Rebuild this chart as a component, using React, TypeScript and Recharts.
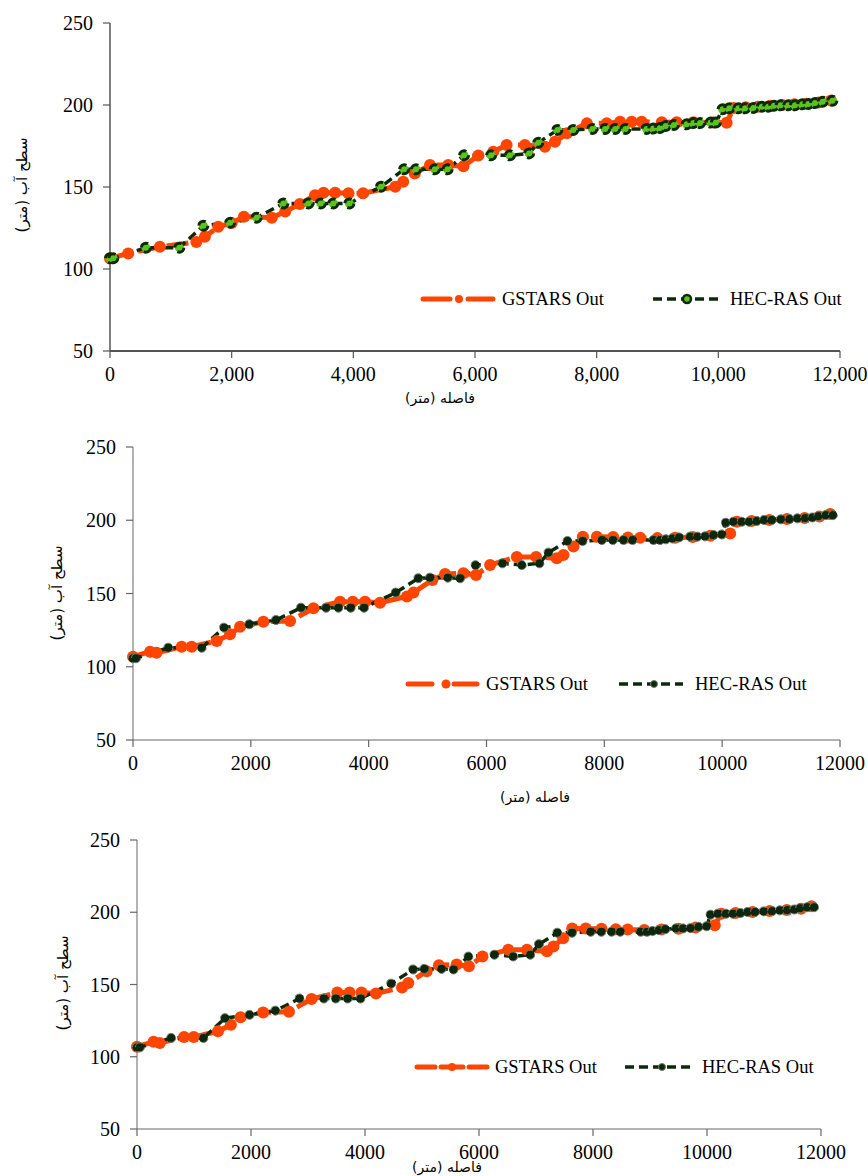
import React from 'react';
import { LineChart, Line, XAxis, YAxis } from 'recharts';

type P = [number, number];

const xTicks = [0, 2000, 4000, 6000, 8000, 10000, 12000];
const yTicks = [50, 100, 150, 200, 250];
const seriesNames = ['GSTARS Out', 'HEC-RAS Out'];
const xTitle = 'فاصله (متر)';
const yTitle = 'سطح آب (متر)';

// ---- Panel 1 ----
const gstars1: P[] = [
  [0, 106.5], [300, 109.5], [820, 113.5], [1420, 116.5], [1560, 119.7], [1780, 125.8], [2000, 128],
  [2200, 131.9], [2660, 131.3], [2880, 135], [3120, 139.6], [3370, 145], [3510, 146.5], [3700, 146.5],
  [3920, 146.2], [4160, 146.2], [4690, 150.2], [4820, 153.2], [5010, 158.3], [5260, 163.4], [5560, 163.4],
  [5810, 162.6], [6055, 169.2], [6300, 171.5], [6520, 175.6], [6820, 175.6], [7150, 174.6], [7315, 177.6],
  [7510, 182.7], [7840, 188.8], [8165, 188.8], [8385, 189.8], [8575, 189.8], [8740, 189.8], [9070, 189.5],
  [9316, 189.5], [9590, 189.5], [9918, 189.3], [10137, 189.2], [10250, 198.2], [10450, 198.6], [10650, 199],
  [10850, 199.5], [11050, 200], [11250, 200.4], [11450, 200.8], [11650, 201.5], [11850, 202.8],
];
const hecras1: P[] = [
  [0, 106.5], [54, 106.5], [590, 113], [1140, 113], [1535, 126.4], [1975, 128.2], [2410, 131.3],
  [2850, 140], [3260, 140], [3465, 140], [3670, 140], [3935, 140], [4455, 150.2], [4835, 160.8],
  [5030, 160.8], [5340, 160.8], [5550, 160.8], [5820, 169.3], [6265, 169.3], [6575, 169.3], [6890, 170.5],
  [7040, 177], [7355, 184.8], [7615, 184.8], [7930, 185.4], [8140, 185.4], [8305, 185.4], [8475, 185.4],
  [8820, 185.4], [8930, 185.6], [9040, 186], [9135, 187.2], [9270, 187.8], [9480, 188.2], [9590, 189],
  [9700, 189], [9875, 189.3], [9960, 189.3], [10070, 197.4], [10180, 198], [10330, 198], [10440, 198],
  [10575, 198.2], [10715, 199], [10820, 199], [10915, 199.5], [11025, 199.8], [11150, 199.8], [11260, 199.8],
  [11380, 200.4], [11480, 200.6], [11590, 201.2], [11715, 202], [11875, 202.6],
];

// ---- Panel 2 ----
const gstars2: P[] = [
  [0, 106.9], [290, 110.3], [400, 109.5], [826, 113.7], [996, 113.7], [1421, 117.6], [1647, 122.1],
  [1817, 127.3], [2213, 130.7], [2666, 131.2], [3062, 139.9], [3514, 144.4], [3730, 144.4], [3939, 144.4],
  [4193, 143.7], [4650, 148], [4760, 150.6], [5082, 159.2], [5297, 163.3], [5608, 163.8], [5823, 162.6],
  [6061, 169.4], [6514, 175], [6842, 175], [7193, 174], [7306, 176.3], [7476, 182], [7635, 188.7],
  [7873, 188.7], [8150, 188.5], [8400, 188.2], [8608, 188], [8900, 187.8], [9200, 188], [9500, 188.5],
  [9800, 189.5], [10136, 191], [10250, 199], [10500, 199.5], [10800, 200.2], [11100, 200.8], [11400, 201.5],
  [11650, 202.5], [11834, 204.2],
];
const hecras2: P[] = [
  [0, 105.8], [51, 105.8], [600, 113], [1166, 113], [1545, 126.7], [1975, 129], [2428, 131.9],
  [2852, 140.3], [3277, 140.3], [3486, 140.3], [3695, 140.3], [3921, 140.3], [4459, 150.6], [4844, 160.4],
  [5042, 160.8], [5342, 160.8], [5552, 160.4], [5815, 169.3], [6270, 170.6], [6599, 169.4], [6899, 170.6],
  [7052, 177.9], [7375, 185.8], [7630, 185.8], [7958, 186.5], [8145, 186.5], [8325, 186.5], [8478, 186.5],
  [8834, 186.5], [8947, 186.5], [9044, 187], [9156, 187.6], [9270, 188.3], [9457, 188.8], [9581, 188.8],
  [9711, 189], [9853, 189.9], [9994, 190.3], [10062, 198.3], [10192, 199], [10333, 199], [10458, 199],
  [10588, 199.5], [10713, 200.2], [10843, 200.2], [10996, 200.6], [11143, 200.8], [11278, 201.3],
  [11409, 201.5], [11533, 201.9], [11635, 202.8], [11760, 203.5], [11879, 203.5],
];

// ---- Panel 3 ----
const gstars3: P[] = [
  [0, 107], [290, 110.3], [400, 109.5], [826, 113.7], [996, 113.7], [1421, 117.6], [1647, 122.1],
  [1817, 127.3], [2213, 130.7], [2666, 131.2], [3062, 139.9], [3514, 144.4], [3730, 144.4], [3939, 144.4],
  [4193, 143.7], [4650, 148], [4760, 151], [5082, 159.2], [5297, 163.3], [5608, 163.8], [5823, 162.6],
  [6061, 169.4], [6514, 174], [6842, 174], [7193, 173], [7306, 176.3], [7476, 182], [7635, 188.7],
  [7873, 188.7], [8150, 188.5], [8400, 188.2], [8608, 188], [8900, 187.8], [9200, 188], [9500, 188.5],
  [9800, 189.5], [10136, 191], [10250, 199], [10500, 199.5], [10800, 200.2], [11100, 200.8], [11400, 201.5],
  [11650, 202.5], [11834, 204.2],
];
const hecras3: P[] = [
  [0, 106.5], [51, 106.5], [600, 113], [1166, 113], [1545, 126.7], [1975, 129], [2428, 131.9],
  [2852, 140.3], [3277, 140.3], [3486, 140.3], [3695, 140.3], [3921, 140.3], [4459, 150.6], [4844, 160.4],
  [5042, 160.8], [5342, 160.8], [5552, 160.4], [5815, 169.3], [6270, 170.6], [6599, 169.4], [6899, 170.6],
  [7052, 177.9], [7375, 185.8], [7630, 185.8], [7958, 186.5], [8145, 186.5], [8325, 186.5], [8478, 186.5],
  [8834, 186.5], [8947, 186.5], [9044, 187], [9156, 187.6], [9270, 188.3], [9457, 188.8], [9581, 188.8],
  [9711, 189], [9853, 189.9], [9994, 190.3], [10062, 198.3], [10192, 199], [10333, 199], [10458, 199],
  [10588, 199.5], [10713, 200.2], [10843, 200.2], [10996, 200.6], [11143, 200.8], [11278, 201.3],
  [11409, 201.5], [11533, 201.9], [11635, 202.8], [11760, 203.5], [11879, 203.5],
];

const ORANGE = '#FF4500';
const DARK = '#0B2A0B';
const LIME = '#5CC21D';
const SERIF = "'Liberation Serif', 'Times New Roman', serif";
const ARABIC = "'DejaVu Sans', sans-serif";

const toPts = (a: P[]) => a.map(([x, y]) => ({ x, y }));
const fmtComma = (v: number) => v.toLocaleString('en-US');
const fmtPlain = (v: number) => String(v);

type Cfg = {
  top: number; height: number;
  margin: { top: number; right: number; bottom: number; left: number };
  g: P[]; h: P[]; comma: boolean; variant: 1 | 2 | 3;
  axisStroke: string; axisWidth: number; xAxisWidth: number;
};

const panels: Cfg[] = [
  { top: 0, height: 410, margin: { top: 23, right: 28, bottom: 29, left: 50 }, g: gstars1, h: hecras1, comma: true, variant: 1, axisStroke: '#555', axisWidth: 1.5, xAxisWidth: 2.2 },
  { top: 410, height: 400, margin: { top: 37, right: 28, bottom: 40, left: 73 }, g: gstars2, h: hecras2, comma: false, variant: 2, axisStroke: '#666', axisWidth: 1, xAxisWidth: 1 },
  { top: 810, height: 366, margin: { top: 30, right: 47, bottom: 17, left: 77 }, g: gstars3, h: hecras3, comma: false, variant: 3, axisStroke: '#666', axisWidth: 1, xAxisWidth: 1 },
];

function Panel({ cfg }: { cfg: Cfg }) {
  const tick = { fill: '#000', fontSize: 20, fontFamily: SERIF };
  const gDash = cfg.variant === 3 ? '15 6' : '22 7';
  const hDot = cfg.variant === 1
    ? { r: 4.5, fill: LIME, stroke: DARK, strokeWidth: 3 }
    : { r: 4.5, fill: '#0D260D', stroke: '#6F7F6F', strokeWidth: 1 };
  return (
    <div style={{ position: 'absolute', left: 0, top: cfg.top }}>
      <LineChart width={868} height={cfg.height} margin={cfg.margin}>
        <XAxis
          type="number" dataKey="x" domain={[0, 12000]} ticks={xTicks} interval={0}
          tickFormatter={cfg.comma ? fmtComma : fmtPlain}
          tick={tick} tickSize={7} tickMargin={9} height={30}
          axisLine={{ stroke: cfg.axisStroke, strokeWidth: cfg.xAxisWidth }}
          tickLine={{ stroke: cfg.axisStroke, strokeWidth: 1.2 }}
        />
        <YAxis
          type="number" domain={[50, 250]} ticks={yTicks} interval={0} width={60}
          tick={tick} tickSize={7} tickMargin={10}
          axisLine={{ stroke: cfg.axisStroke, strokeWidth: cfg.axisWidth }}
          tickLine={{ stroke: cfg.axisStroke, strokeWidth: 1.2 }}
        />
        <Line
          data={toPts(cfg.g)} dataKey="y" name={seriesNames[0]} type="linear"
          stroke={ORANGE} strokeWidth={5} strokeDasharray={gDash}
          dot={{ r: 6, fill: ORANGE, stroke: 'none' }}
          activeDot={false} isAnimationActive={false}
        />
        <Line
          data={toPts(cfg.h)} dataKey="y" name={seriesNames[1]} type="linear"
          stroke={DARK} strokeWidth={3.5} strokeDasharray="9 5"
          dot={hDot} activeDot={false} isAnimationActive={false}
        />
      </LineChart>
    </div>
  );
}

type LegendCfg = {
  y: number;
  gDashes: [number, number][]; gDot: number; gR: number; gText: number;
  hFrom: number; hTo: number; hDot: number; hR: number; hText: number; variant: 1 | 2 | 3;
};

const legends: LegendCfg[] = [
  { y: 299, gDashes: [[423, 450], [468, 493]], gDot: 459, gR: 4, gText: 502, hFrom: 653, hTo: 723, hDot: 687, hR: 4, hText: 730, variant: 1 },
  { y: 684, gDashes: [[408, 432], [454, 477]], gDot: 446, gR: 4.5, gText: 486, hFrom: 619, hTo: 683, hDot: 654, hR: 3.5, hText: 695, variant: 2 },
  { y: 1067, gDashes: [[417, 435], [441, 463], [469, 487]], gDot: 452, gR: 4, gText: 495, hFrom: 625, hTo: 695, hDot: 662, hR: 3.5, hText: 702, variant: 3 },
];

function LegendItems({ l }: { l: LegendCfg }) {
  return (
    <g>
      {l.gDashes.map(([a, b], i) => (
        <line key={i} x1={a} x2={b} y1={l.y} y2={l.y} stroke={ORANGE} strokeWidth={5} strokeLinecap="round" />
      ))}
      <circle cx={l.gDot} cy={l.y} r={l.gR} fill={ORANGE} />
      <text x={l.gText} y={l.y + 6} fontFamily={SERIF} fontSize={18.5} fill="#000">{seriesNames[0]}</text>
      <line x1={l.hFrom} x2={l.hTo} y1={l.y} y2={l.y} stroke={DARK} strokeWidth={3.5} strokeDasharray="9 5" />
      {l.variant === 1
        ? <circle cx={l.hDot} cy={l.y} r={l.hR} fill={LIME} stroke={DARK} strokeWidth={2.5} />
        : <circle cx={l.hDot} cy={l.y} r={l.hR} fill="#0D260D" stroke="#6F7F6F" strokeWidth={1} />}
      <text x={l.hText} y={l.y + 6} fontFamily={SERIF} fontSize={18.5} fill="#000">{seriesNames[1]}</text>
    </g>
  );
}

const xTitlePos: [number, number][] = [[440, 398], [535, 797], [447, 1167]];
const yTitlePos: [number, number][] = [[22, 185], [57, 593], [63, 983]];

export default function App() {
  return (
    <div style={{ position: 'absolute', left: 0, top: 0, width: 868, height: 1176, background: '#fff', overflow: 'hidden' }}>
      {panels.map((p, i) => <Panel key={i} cfg={p} />)}
      <svg width={868} height={1176} style={{ position: 'absolute', left: 0, top: 0, pointerEvents: 'none' }}>
        {legends.map((l, i) => <LegendItems key={i} l={l} />)}
      </svg>
      {xTitlePos.map(([x, y], i) => (
        <div key={'x' + i} dir="rtl" style={{ position: 'absolute', left: x, top: y, transform: 'translate(-50%, -50%)', fontFamily: ARABIC, fontSize: 14, whiteSpace: 'nowrap', color: '#000' }}>{xTitle}</div>
      ))}
      {yTitlePos.map(([x, y], i) => (
        <div key={'y' + i} dir="rtl" style={{ position: 'absolute', left: x, top: y, transform: 'translate(-50%, -50%) rotate(-90deg)', fontFamily: ARABIC, fontSize: 15, whiteSpace: 'nowrap', color: '#000' }}>{yTitle}</div>
      ))}
    </div>
  );
}
